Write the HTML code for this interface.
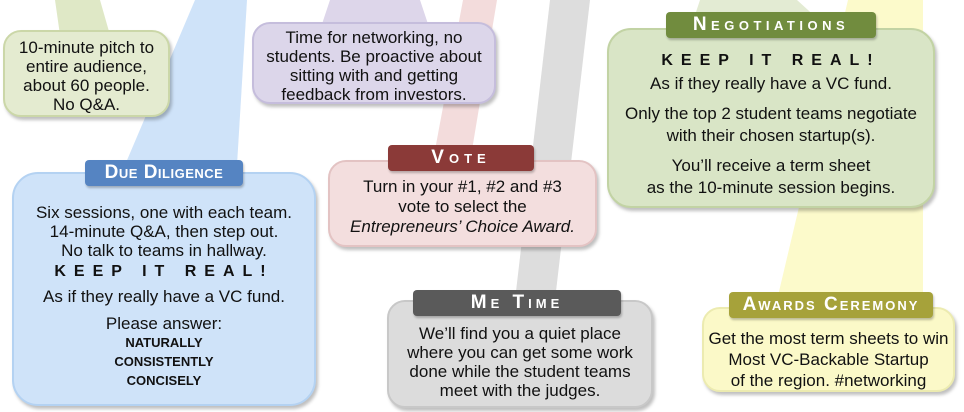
<!DOCTYPE html>
<html><head><meta charset="utf-8"><style>
body{margin:0;width:964px;height:412px;overflow:hidden;background:#fff;font-family:"Liberation Sans",sans-serif;position:relative}
.b{position:absolute;box-sizing:border-box;border-radius:18px;text-align:center;color:#111;font-size:17px;line-height:19px;box-shadow:2px 3px 3px rgba(0,0,0,.25);white-space:nowrap}
.l{position:absolute;box-sizing:border-box;border-radius:4px;color:#fff;font-weight:bold;text-align:center;font-size:19px;line-height:26px;letter-spacing:3px;font-variant:small-caps;box-shadow:1px 2px 2px rgba(0,0,0,.25);white-space:nowrap}
.k{font-weight:bold;letter-spacing:8px;font-size:16px}
p{margin:0}
</style></head><body>
<svg width="964" height="412" style="position:absolute;left:0;top:0">
<polygon points="55,0 100,0 110,35 60,35" fill="#dfe8c6"/>
<polygon points="195,0 247,0 237,165 125,165" fill="#cfe3f9"/>
<polygon points="330,0 420,0 430,30 320,30" fill="#ddd6ea"/>
<polygon points="463,0 497,0 472,150 435,150" fill="#f3dcdc"/>
<polygon points="550,0 590,0 555,300 515,300" fill="#dddddd"/>
<polygon points="700,0 797,0 830,30 690,30" fill="#e3ebd3"/>
<polygon points="848,0 923,0 923,300 777,300" fill="#fcfacb"/>
</svg>
<div class="b" style="left:3px;top:30px;width:167px;height:87px;background:#e4ebd0;border:2px solid #cbd7a8;padding-top:6px">10-minute pitch to<br>entire audience,<br>about 60 people.<br>No Q&amp;A.</div>
<div class="b" style="left:252px;top:22px;width:244px;height:82px;background:#dcd6ea;border:2px solid #c5bddc;padding-top:4px">Time for networking, no<br>students. Be proactive about<br>sitting with and getting<br>feedback from investors.</div>
<div class="b" style="left:12px;top:172px;width:304px;height:234px;background:#cfe3f9;border:2px solid #b4d2f2;padding-top:29px;border-radius:26px">
<p>Six sessions, one with each team.<br>14-minute Q&amp;A, then step out.<br>No talk to teams in hallway.</p>
<p class="k" style="margin-top:2px">KEEP IT REAL!</p>
<p style="margin-top:6px">As if they really have a VC fund.</p>
<p style="margin-top:8px">Please answer:</p>
<p style="font-weight:bold;font-size:13px;line-height:19px">NATURALLY<br>CONSISTENTLY<br>CONCISELY</p></div>
<div class="l" style="left:85px;top:160px;width:158px;background:#5584c2;letter-spacing:0.5px">Due Diligence</div>
<div class="b" style="left:328px;top:160px;width:269px;height:87px;background:#f3dede;border:2px solid #e3c3c3;padding-top:15px;line-height:20px">Turn in your #1, #2 and #3<br>vote to select the<br><i>Entrepreneurs’ Choice Award.</i></div>
<div class="l" style="left:388px;top:145px;width:146px;background:#8b3a38;letter-spacing:5px">Vote</div>
<div class="b" style="left:607px;top:28px;width:328px;height:180px;background:#d9e5c6;border:2px solid #c2d3a4;padding-top:21px;border-radius:24px">
<p class="k">KEEP IT REAL!</p>
<p style="margin-top:3px;line-height:21px">As if they really have a VC fund.</p>
<p style="margin-top:9px;line-height:22px">Only the top 2 student teams negotiate<br>with their chosen startup(s).</p>
<p style="margin-top:8px;line-height:22px">You’ll receive a term sheet<br>as the 10-minute session begins.</p></div>
<div class="l" style="left:666px;top:12px;width:210px;background:#718c3e;letter-spacing:4.5px">Negotiations</div>
<div class="b" style="left:387px;top:300px;width:266px;height:108px;background:#dcdcdc;border:2px solid #c8c8c8;padding-top:22px">We’ll find you a quiet place<br>where you can get some work<br>done while the student teams<br>meet with the judges.</div>
<div class="l" style="left:413px;top:290px;width:208px;background:#5a5a5a;letter-spacing:4px">Me Time</div>
<div class="b" style="left:702px;top:307px;width:253px;height:85px;background:#fbf9c8;border:2px solid #ecebb0;padding-top:19px;line-height:21px">Get the most term sheets to win<br>Most VC-Backable Startup<br>of the region. #networking</div>
<div class="l" style="left:729px;top:292px;width:204px;background:#a6a23a;letter-spacing:2px">Awards Ceremony</div>
</body></html>
